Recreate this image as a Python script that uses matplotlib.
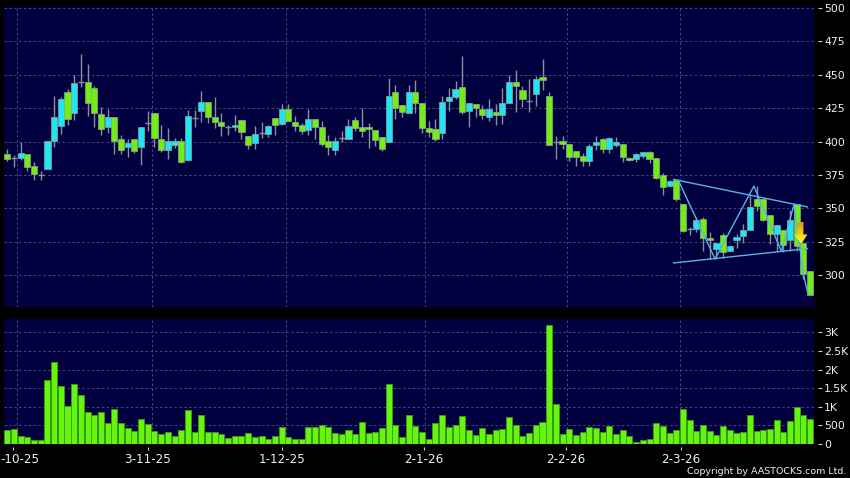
import matplotlib
matplotlib.use("Agg")
import matplotlib.pyplot as plt
import numpy as np
from matplotlib.patches import Polygon
from matplotlib.transforms import ScaledTranslation

opens = [391.0,387.9,387.9,391.0,381.7,375.1,379.6,400.5,411.8,437.0,421.1,444.2,444.5,440.0,420.6,410.6,418.6,401.5,396.0,401.5,
396.2,414.1,421.6,401.5,394.0,397.5,400.5,386.4,417.3,422.6,429.9,418.1,414.8,410.6,410.6,416.3,404.3,399.2,406.0,405.8,
417.3,412.8,424.6,414.3,412.1,408.3,416.6,411.1,400.5,394.0,402.8,402.0,415.8,411.1,411.1,408.3,403.5,400.0,437.4,427.6,
421.1,437.4,428.7,409.8,409.6,406.0,430.2,433.2,440.5,422.6,428.4,424.6,418.6,422.4,419.6,428.7,444.2,438.5,430.2,435.4,
448.3,434.4,400.0,400.0,398.0,393.2,389.2,385.7,397.2,401.8,394.2,397.7,398.0,387.7,386.7,389.0,392.5,387.9,374.9,366.6,
371.1,353.5,334.2,334.7,342.2,327.6,319.3,329.9,318.3,326.4,329.1,333.9,357.3,357.3,345.0,330.9,333.4,326.4,353.0,323.9,302.8]
highs = [394.7,389.7,400.0,391.0,384.7,377.6,400.5,434.2,433.2,439.2,450.0,465.8,458.3,441.7,425.6,424.1,418.6,404.8,402.0,401.5,
411.1,422.9,421.6,412.3,409.8,402.3,402.3,423.6,423.6,437.9,429.9,433.7,421.1,412.3,419.9,416.3,404.3,411.6,414.6,412.3,
417.3,428.1,428.1,419.1,414.1,424.4,416.6,415.3,404.8,403.5,407.8,416.8,418.1,424.9,413.6,408.3,403.5,447.5,442.5,427.6,
442.5,446.2,428.7,415.3,416.8,434.2,440.0,445.5,464.3,428.7,428.4,427.1,431.7,428.1,440.0,450.0,453.8,441.7,446.7,449.3,
462.1,437.4,404.3,404.3,398.0,393.2,391.7,398.2,403.8,402.5,403.3,403.3,398.0,388.2,391.2,392.5,393.2,387.9,376.6,371.1,
371.6,353.5,335.9,343.5,343.5,332.2,323.9,331.4,321.6,330.9,338.4,359.8,366.6,357.8,345.0,337.4,333.9,348.5,353.0,323.9,302.8]
lows = [385.4,380.9,386.0,377.9,371.4,371.4,379.6,396.0,405.5,412.6,416.1,440.7,419.1,411.1,405.0,406.5,391.0,390.5,388.4,391.7,
382.2,408.0,396.0,392.2,386.9,395.5,383.9,385.4,410.6,414.8,414.1,409.8,404.0,404.8,408.0,402.0,394.5,394.5,402.5,403.0,
404.8,412.1,415.6,408.0,405.5,404.8,401.5,396.5,389.7,389.7,399.8,402.0,408.0,403.3,395.2,396.5,393.0,400.0,417.1,418.6,
421.1,421.6,406.5,403.5,400.5,401.5,423.1,431.7,420.6,411.1,418.6,416.6,415.6,412.6,413.1,428.7,422.4,426.1,422.4,426.6,
438.7,397.7,386.9,394.2,385.4,381.7,381.7,381.7,393.7,391.7,391.2,396.2,384.9,385.7,384.9,387.4,383.7,371.6,359.8,366.6,
355.5,332.2,329.6,332.2,318.3,312.0,312.0,312.8,317.8,320.3,323.9,333.4,348.0,340.4,323.4,317.8,317.1,318.3,318.3,297.0,285.2]
closes = [387.2,387.9,391.7,380.9,375.9,375.1,400.5,418.6,431.7,416.6,443.7,444.2,428.7,421.1,409.1,418.6,400.3,394.0,399.2,393.2,
411.1,414.1,402.3,394.0,400.5,400.5,384.7,419.4,417.3,429.9,418.1,414.8,411.8,410.6,412.1,406.8,397.7,405.8,406.0,411.3,
412.6,424.6,415.6,411.8,408.0,416.6,410.6,398.2,396.0,400.5,402.8,411.8,410.3,408.0,409.6,400.8,394.5,434.4,424.9,421.9,
437.4,428.7,409.8,406.8,401.5,429.9,433.2,439.7,421.9,428.7,425.4,419.6,424.6,419.6,428.7,444.2,441.5,431.7,430.2,446.7,
446.0,397.7,400.0,398.0,388.2,388.7,385.7,396.7,400.0,394.2,402.5,400.0,388.2,386.4,390.7,392.5,386.7,372.4,365.6,370.6,
357.3,332.9,334.2,340.9,327.9,326.4,323.9,317.3,321.6,328.4,333.7,351.0,352.0,341.4,330.9,337.4,322.6,341.4,321.8,300.7,285.2]
volumes = [360,395,200,190,100,100,1705,2200,1560,1005,1600,1310,855,780,845,550,935,550,415,330,
655,540,340,260,325,215,375,900,305,770,315,315,270,160,200,215,285,180,205,135,
215,440,190,125,125,450,440,505,460,285,260,370,250,585,285,325,415,1610,495,180,
780,465,315,125,555,770,440,495,755,360,240,430,270,370,395,710,505,215,280,495,
585,3195,1080,270,405,240,315,450,415,315,465,260,375,200,35,90,125,550,485,285,
375,925,635,350,510,340,240,485,360,285,325,765,330,375,395,630,325,600,995,780,665]

price_ticks = [300,325,350,375,400,425,450,475,500]
volume_ticks = [0,500,1000,1500,2000,2500,3000]
volume_labels = ["0","500","1K","1.5K","2K","2.5K","3K"]
date_labels = ["-10-25","3-11-25","1-12-25","2-1-26","2-2-26","2-3-26"]
date_ticks = [0.9,21,41.1,62.3,83.5,100.7]
grid_dates = [1.5,21.6,41.6,62.5,83.6,100.6]

wedge_upper_x = [99.6,119.6]
wedge_upper_y = [371.6,351.0]
wedge_lower_x = [99.6,119.6]
wedge_lower_y = [309.0,319.8]
zigzag_x = [100.3,105.8,111.6,115.7,117.6,119.0,119.7]
zigzag_y = [371.0,312.0,366.6,317.8,353.0,300.7,285.6]
arrow_x = [118.1,119.0,119.0,119.6,118.7,117.6,118.1]
arrow_y = [339.7,339.7,330.4,330.4,323.4,330.4,330.4]

W, H = 850, 478
NAVY = "#00003f"; GRID = "#47478a"; GREEN = "#73ee12"; CYAN = "#1fe6f5"
WICK = "#8a8f9a"; EDGE = "#8fa69a"; LINE = "#56b4e9"; TXT = "#f0f0f0"

plt.rcParams["font.family"] = "DejaVu Sans"
fig = plt.figure(figsize=(W/100, H/100), dpi=100, facecolor="black")
L, R = 4, 814
def make_ax(top, bottom):
    return fig.add_axes([L/W, 1-bottom/H, (R-L)/W, (bottom-top)/H], facecolor=NAVY)
P_TOP, P_BOT, V_TOP, V_BOT = 7, 307, 319, 444
ax = make_ax(P_TOP, P_BOT)
vx = make_ax(V_TOP, V_BOT)

xlim = ((L-7.3)/6.69, (R-7.3)/6.69)
ax.set_xlim(*xlim); vx.set_xlim(*xlim)
pp = 200/267.0
ax.set_ylim(500-(P_BOT-8)*pp, 500+(8-P_TOP)*pp)
vp = 3000/111.3
vx.set_ylim(-(V_BOT-443.7)*vp, (443.7-V_TOP)*vp)

for a in (ax, vx):
    a.set_xticks(grid_dates, minor=True)
    a.grid(True, which="minor", axis="x", color=GRID, ls=(0,(2.5,2.5)), lw=0.7)
    a.grid(True, which="major", axis="y", color=GRID, ls=(0,(2.5,2.5)), lw=0.7)
    a.set_axisbelow(True)
    a.yaxis.tick_right()
    a.tick_params(axis="x", which="minor", length=0)
    a.tick_params(axis="y", length=0, labelcolor=TXT, labelsize=7.8, pad=7.2)
    for s in a.spines.values():
        s.set_visible(False)

ax.set_yticks(price_ticks)
ax.set_xticks([])
vx.set_yticks(volume_ticks)
vx.set_yticklabels(volume_labels)
vx.set_xticks(date_ticks)
vx.set_xticklabels(date_labels)
vx.tick_params(axis="x", which="major", length=0, labelcolor=TXT, labelsize=8.6, pad=6.3)
vx.get_xticklabels()[0].set_transform(
    vx.get_xticklabels()[0].get_transform() + ScaledTranslation(7/100, 0, fig.dpi_scale_trans))

for a, vals in ((ax, price_ticks), (vx, volume_ticks)):
    a.hlines(vals, 1+4.3/(R-L), 1+8/(R-L), transform=a.get_yaxis_transform(),
             color="#d0d0d0", lw=0.8, clip_on=False)
vx.vlines(date_ticks, -3/(V_BOT-V_TOP), -5.5/(V_BOT-V_TOP), transform=vx.get_xaxis_transform(),
          color="#d0d0d0", lw=0.8, clip_on=False)

xs = list(range(len(opens)))
for i in xs:
    o, h, l, c = opens[i], highs[i], lows[i], closes[i]
    ax.vlines(i, l, h, color=WICK, lw=1.0, zorder=2)
    if o == c:
        ax.hlines(o, i-0.45, i+0.45, color=WICK, lw=1.0, zorder=3)
    else:
        ax.bar(i, abs(c-o), bottom=min(o, c), width=0.92,
               color=CYAN if c > o else GREEN, edgecolor=EDGE, linewidth=0.5, zorder=3)

vx.bar(xs, volumes, width=0.9, color="#66f50c", edgecolor="#3c9c10", linewidth=0.6, zorder=3)

ax.plot(wedge_upper_x, wedge_upper_y, color=LINE, lw=1.0, zorder=5)
ax.plot(wedge_lower_x, wedge_lower_y, color=LINE, lw=1.0, zorder=5)
ax.plot(zigzag_x, zigzag_y, color=LINE, lw=1.0, zorder=5)

xl, yl = ax.get_xlim(), ax.get_ylim()
arrow = Polygon(list(zip(arrow_x, arrow_y)), closed=True, facecolor="none",
                edgecolor="none", transform=ax.transData)
ax.add_patch(arrow)
grad = np.array([[[0.90,0.62,0.08]],[[0.96,0.74,0.10]],[[1.0,0.85,0.12]],[[1.0,0.92,0.25]]])
im = ax.imshow(grad, extent=(min(arrow_x), max(arrow_x), min(arrow_y), max(arrow_y)),
               aspect="auto", origin="upper", interpolation="bilinear", zorder=6)
im.set_clip_path(arrow)
ax.set_xlim(*xl); ax.set_ylim(*yl)

fig.text(846/W, 1-471/H, "Copyright by AASTOCKS.com Ltd.", color=TXT, fontsize=6.8,
         ha="right", va="center")
fig.savefig("out.png", dpi=100, facecolor="black")
